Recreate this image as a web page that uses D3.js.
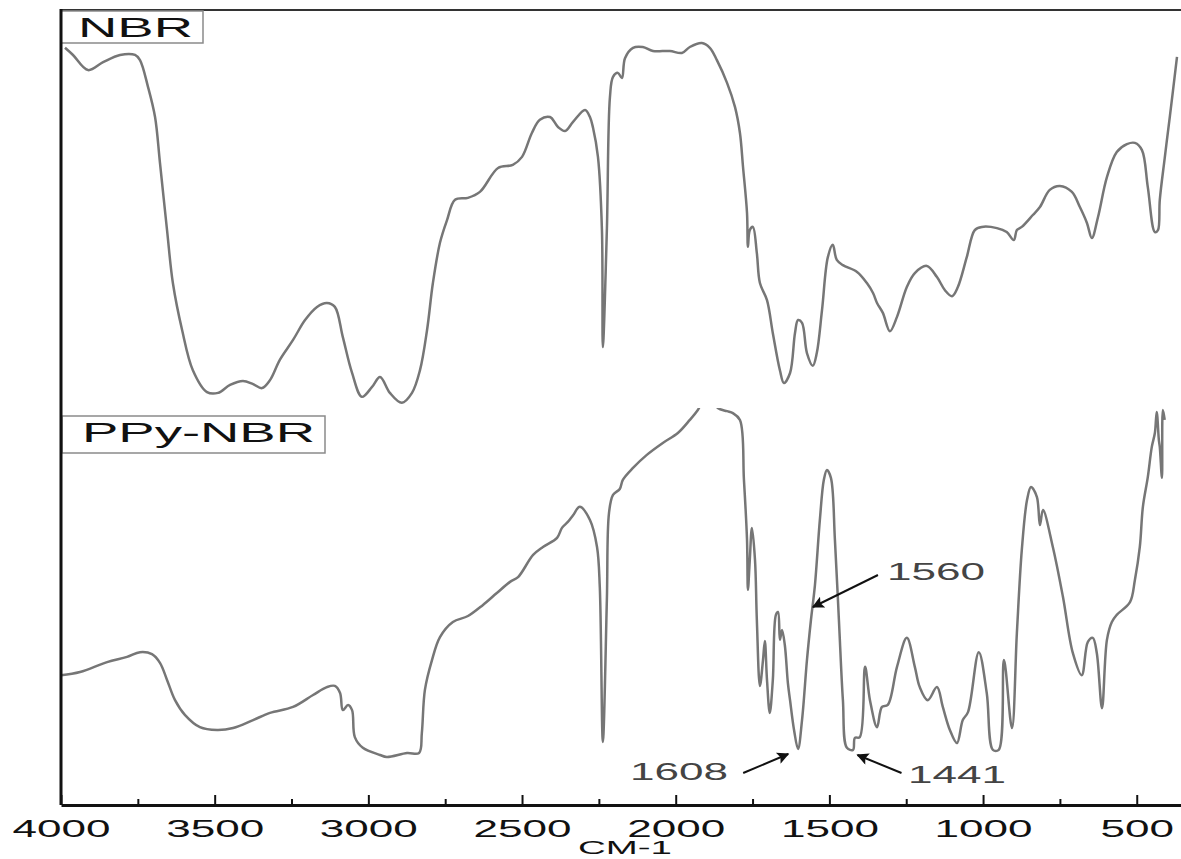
<!DOCTYPE html>
<html>
<head>
<meta charset="utf-8">
<script src="https://cdn.jsdelivr.net/npm/d3@7"></script>
<style>
  html, body { margin: 0; padding: 0; background: #fff; }
  svg { display: block; }
</style>
</head>
<body>
<svg id="chart" width="1181" height="859"></svg>
<script>
// ---------------- DATA ----------------
const seriesNames = ["NBR", "PPy-NBR"];

// NBR spectrum (wavenumber cm-1, transmittance a.u.)
const nbrWavenumber = [3987,3961,3912,3863,3808,3759,3743,3717,3694,3678,3655,3636,3606,3571,3525,3489,3450,3408,3375,3346,3320,3288,3245,3206,3167,3135,3109,3083,3053,3021,2988,2962,2930,2891,2858,2832,2809,2790,2767,2744,2718,2676,2637,2578,2530,2500,2468,2442,2409,2383,2360,2334,2295,2279,2269,2253,2240,2237,2224,2214,2204,2188,2175,2165,2139,2107,2074,2019,1980,1954,1915,1889,1866,1833,1807,1791,1781,1768,1765,1759,1749,1736,1726,1703,1684,1661,1648,1628,1612,1602,1589,1573,1554,1541,1524,1505,1489,1476,1456,1410,1378,1358,1345,1326,1303,1280,1248,1222,1183,1150,1124,1101,1082,1053,1027,1004,955,923,900,890,874,838,815,783,750,711,685,662,646,626,597,565,532,506,483,464,441,431,425,409,392,369];
const nbrValue = [90.5,88.7,84.9,86.9,88.7,88.7,87.4,80.7,73.1,61.6,44.7,31.4,19.6,9.5,4.0,3.8,5.8,6.8,6.0,5.0,7.0,12.1,17.1,22.1,25.4,26.4,25.4,17.8,8.8,2.8,5.3,7.8,3.8,1.3,3.8,9.5,19.6,31.4,41.5,47.2,52.3,52.8,54.3,60.3,61.1,63.1,69.1,72.4,73.1,70.6,69.6,71.9,74.9,73.1,70.4,63.1,44.7,15.3,44.7,78.1,83.2,84.2,82.9,87.9,90.5,90.7,89.7,89.7,89.2,90.7,91.7,90.5,87.4,81.7,75.6,69.1,60.6,49.0,40.5,44.7,45.5,38.9,31.4,27.1,18.8,9.5,6.3,8.8,18.8,22.1,21.4,13.8,10.6,13.8,24.6,37.9,41.0,37.2,35.9,34.2,31.4,28.9,26.4,23.9,19.3,22.9,30.4,33.9,35.7,32.9,29.6,28.1,30.4,37.9,44.7,45.5,45.2,44.2,42.2,44.7,45.5,48.5,50.5,54.8,55.8,54.3,50.5,46.5,42.7,48.0,58.0,64.3,66.3,66.6,64.8,55.5,44.2,44.7,52.3,62.8,73.4,88.2];

// PPy-NBR spectrum
const ppyWavenumber = [4000,3938,3850,3785,3743,3704,3678,3655,3629,3597,3548,3492,3440,3375,3320,3245,3180,3135,3109,3092,3083,3066,3053,3044,3018,2962,2940,2874,2835,2826,2816,2793,2767,2725,2676,2627,2582,2539,2513,2464,2432,2386,2370,2351,2334,2312,2279,2256,2247,2237,2224,2217,2204,2182,2172,2139,2094,2042,1993,1954,1928,1905,1882,1863,1833,1814,1791,1778,1768,1765,1759,1752,1742,1736,1726,1716,1710,1703,1694,1684,1674,1667,1661,1654,1645,1635,1628,1615,1602,1589,1573,1560,1547,1531,1518,1508,1495,1482,1469,1456,1443,1423,1417,1401,1384,1368,1345,1329,1310,1280,1248,1222,1206,1180,1150,1131,1108,1085,1066,1049,1014,988,968,949,932,906,890,874,857,844,825,815,805,773,740,708,679,659,643,630,613,597,581,565,522,506,490,480,464,451,441,435,428,425,418,415,409];
const ppyValue = [32.7,33.5,36.0,37.3,38.5,38.0,35.8,31.5,26.4,22.7,19.6,18.9,19.4,21.4,23.2,24.7,27.7,29.7,30.0,28.2,23.9,25.2,23.9,17.1,14.4,12.6,12.1,13.1,13.1,18.1,29.0,36.5,42.3,46.1,47.6,50.4,53.4,56.2,57.4,63.0,65.0,67.3,69.8,71.3,73.0,75.1,71.8,65.0,54.9,15.9,51.6,73.6,78.1,79.6,81.9,84.9,88.2,91.2,93.7,97.0,99.5,102.5,102.5,100.0,99.2,98.7,97.0,81.9,66.8,54.2,61.7,69.8,61.7,46.6,30.0,36.5,41.3,31.5,23.2,31.5,47.9,48.6,41.6,44.1,40.3,30.7,26.4,18.9,14.1,21.4,36.5,46.6,55.4,71.8,81.9,84.4,82.4,66.8,46.6,26.4,14.4,13.9,16.9,17.1,34.8,26.4,19.6,24.7,25.2,34.8,42.1,34.8,29.7,26.4,29.7,24.7,18.9,15.6,21.4,23.4,38.5,28.2,13.9,13.9,36.5,19.4,43.3,64.2,76.8,80.1,77.6,70.5,74.3,65.0,52.4,38.3,32.7,41.1,42.1,38.3,24.4,41.6,46.1,47.9,51.1,56.7,65.0,75.1,82.6,90.2,93.7,99.0,91.9,90.2,82.4,99.5,97.0];

const xTickValues = [4000, 3500, 3000, 2500, 2000, 1500, 1000, 500];
const xMinorTickValues = [3750, 3250, 2750, 2250, 1750, 1250, 750];
const xAxisTitle = "CM-1";

const annotationLabels = ["1560", "1608", "1441"];
const annotationWavenumbers = [1560, 1608, 1441];

// ---------------- LAYOUT ----------------
const svg = d3.select("#chart");
const mLeft = 61, mRight = 1181, mTop = 10, mMid = 408, mBottom = 805;
const FONT = "'Liberation Sans', Arial, sans-serif";
const charW = 24.5; // horizontally stretched glyphs

const x = d3.scaleLinear().domain([4000, 356]).range([mLeft, mRight]);
const yTop = d3.scaleLinear().domain([0, 100]).range([mMid, mTop]);
const yBot = d3.scaleLinear().domain([0, 100]).range([mBottom, mMid]);

const defs = svg.append("defs");
defs.append("clipPath").attr("id", "clipTop")
  .append("rect").attr("x", mLeft).attr("y", mTop).attr("width", mRight - mLeft).attr("height", mMid - mTop);
defs.append("clipPath").attr("id", "clipBot")
  .append("rect").attr("x", mLeft).attr("y", mMid).attr("width", mRight - mLeft).attr("height", mBottom - mMid);
defs.append("marker").attr("id", "arrow")
  .attr("viewBox", "0 0 10 10").attr("refX", 9).attr("refY", 5)
  .attr("markerWidth", 8).attr("markerHeight", 6).attr("markerUnits", "strokeWidth")
  .attr("orient", "auto")
  .append("path").attr("d", "M0,0 L10,5 L0,10 L2,5 Z").attr("fill", "#111");

// curves
svg.append("path").datum(nbrValue)
  .attr("clip-path", "url(#clipTop)")
  .attr("d", d3.line().x((d, i) => x(nbrWavenumber[i])).y(d => yTop(d)).curve(d3.curveCatmullRom.alpha(0.5)))
  .attr("fill", "none").attr("stroke", "#767676").attr("stroke-width", 2.5).attr("stroke-linejoin", "round");

svg.append("path").datum(ppyValue)
  .attr("clip-path", "url(#clipBot)")
  .attr("d", d3.line().x((d, i) => x(ppyWavenumber[i])).y(d => yBot(d)).curve(d3.curveCatmullRom.alpha(0.5)))
  .attr("fill", "none").attr("stroke", "#767676").attr("stroke-width", 2.5).attr("stroke-linejoin", "round");

// frame: top border
svg.append("line").attr("x1", mLeft).attr("x2", mRight).attr("y1", mTop).attr("y2", mTop)
  .attr("stroke", "#333").attr("stroke-width", 2);

// bottom axis
const xAxis = d3.axisBottom(x).tickValues(xTickValues).tickSize(-10).tickSizeOuter(0).tickPadding(15).tickFormat(d3.format("d"));
const gx = svg.append("g").attr("transform", `translate(0,${mBottom})`).call(xAxis);
gx.select(".domain").attr("stroke", "#111").attr("stroke-width", 3);
gx.selectAll(".tick line").attr("stroke", "#111").attr("stroke-width", 2);
gx.selectAll(".tick text")
  .attr("font-family", FONT).attr("font-size", 24).attr("fill", "#111")
  .attr("textLength", d => String(d).length * charW)
  .attr("lengthAdjust", "spacingAndGlyphs");

const xMinor = d3.axisBottom(x).tickValues(xMinorTickValues).tickSize(-6).tickSizeOuter(0).tickFormat("");
const gm = svg.append("g").attr("transform", `translate(0,${mBottom})`).call(xMinor);
gm.select(".domain").remove();
gm.selectAll(".tick line").attr("stroke", "#111").attr("stroke-width", 2);

svg.append("text").attr("x", (mLeft + mRight) / 2 + 4).attr("y", 854)
  .attr("text-anchor", "middle").attr("font-family", FONT).attr("font-size", 19).attr("fill", "#111")
  .attr("textLength", 94).attr("lengthAdjust", "spacingAndGlyphs")
  .text(xAxisTitle);

// series labels in boxes
const labelBoxes = [
  { x: 61, y: 11, w: 142, h: 32, tx: 78, ty: 37, tl: 115 },
  { x: 62, y: 416, w: 263, h: 37, tx: 82, ty: 442, tl: 233 }
];
seriesNames.forEach((name, i) => {
  const b = labelBoxes[i];
  svg.append("rect").attr("x", b.x).attr("y", b.y).attr("width", b.w).attr("height", b.h)
    .attr("fill", "#fff").attr("stroke", "#8a8a8a").attr("stroke-width", 1.5);
  svg.append("text").attr("x", b.tx).attr("y", b.ty)
    .attr("font-family", FONT).attr("font-size", 28).attr("fill", "#111")
    .attr("textLength", b.tl).attr("lengthAdjust", "spacingAndGlyphs")
    .text(name);
});
// left axis line
svg.append("line").attr("x1", mLeft).attr("x2", mLeft).attr("y1", mTop - 1).attr("y2", mBottom)
  .attr("stroke", "#111").attr("stroke-width", 3);

// annotations (layout offsets relative to the annotated wavenumber)
const annLayout = [
  { tipDx: 2,   tipY: 607, tailDx: 67,  tailY: 575, textX: 887, textY: 580, anchor: "start" },
  { tipDx: -8,  tipY: 754, tailDx: -53, tailY: 773, textX: 728, textY: 780, anchor: "end" },
  { tipDx: 10,  tipY: 755, tailDx: 54,  tailY: 773, textX: 908, textY: 783, anchor: "start" }
];
annotationLabels.forEach((lab, i) => {
  const L = annLayout[i];
  const px = x(annotationWavenumbers[i]);
  svg.append("line")
    .attr("x1", px + L.tailDx).attr("y1", L.tailY)
    .attr("x2", px + L.tipDx).attr("y2", L.tipY)
    .attr("stroke", "#111").attr("stroke-width", 2)
    .attr("marker-end", "url(#arrow)");
  svg.append("text").attr("x", L.textX).attr("y", L.textY)
    .attr("text-anchor", L.anchor)
    .attr("font-family", FONT).attr("font-size", 24).attr("fill", "#444")
    .attr("textLength", lab.length * charW).attr("lengthAdjust", "spacingAndGlyphs")
    .text(lab);
});
</script>
</body>
</html>
